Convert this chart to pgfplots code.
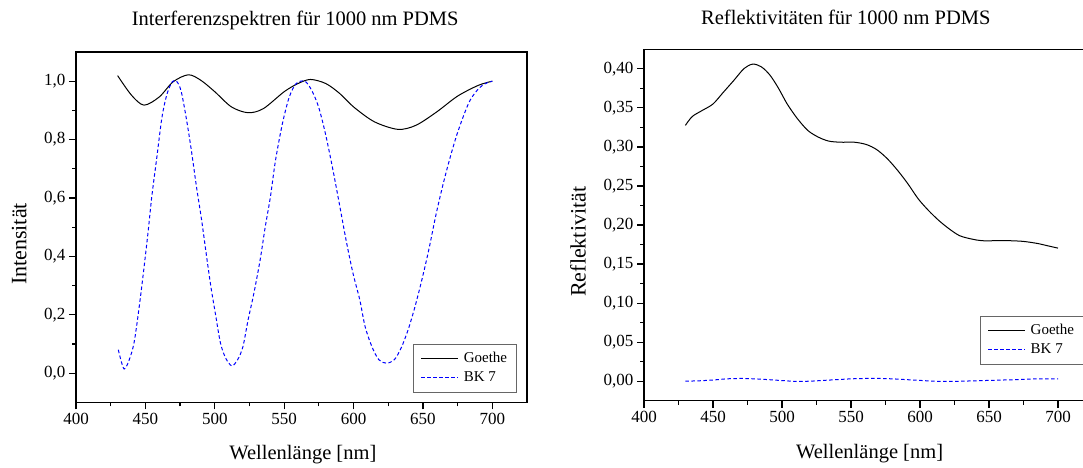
\documentclass[border=0pt]{standalone}
\usepackage{pgfplots}
\pgfplotsset{compat=1.18}
\usepackage{fontspec}
\setmainfont{Liberation Serif}
\begin{document}
\begin{tikzpicture}
\pgfplotsset{
  every axis/.append style={
    scale only axis,
    axis line style={line width=1.2pt},
    tick style={line width=1.2pt, black},
    tick align=outside, tick pos=left,
    major tick length=7pt, minor tick length=4pt,
    minor x tick num=1, minor y tick num=1,
    xmin=400, xmax=725, xtick={400,450,...,700},
    ticklabel style={font=\fontsize{17}{17}\selectfont},
    /pgf/number format/assume math mode=true,
    xlabel style={font=\fontsize{20.5}{20.5}\selectfont},
    ylabel style={font=\fontsize{22}{22}\selectfont},
    title style={font=\fontsize{20.5}{20.5}\selectfont},
    xlabel={Wellenlänge [nm]},
    xlabel style={at={(axis description cs:0.503,-0.150)}, anchor=center},
    legend cell align=left,
    legend image code/.code={\draw[#1] (0pt,0pt) -- (37pt,0pt);},
    legend style={draw=black!60, line width=0.9pt,
      font=\fontsize{15}{15}\selectfont,
      inner xsep=7.5pt, inner ysep=5pt, row sep=0pt,
      nodes={inner sep=2pt, text height=11pt, text depth=4pt},
      /tikz/every odd column/.append style={column sep=3pt}},
  },
  goethe/.style={black, line width=1pt, smooth},
  bk/.style={blue, line width=1pt, dash pattern=on 3.5pt off 2.5pt, smooth},
}
% ---------------- left ----------------
\begin{axis}[
  at={(76pt,-402.3pt)}, anchor=south west,
  width=451pt, height=350.3pt,
  ymin=-0.1, ymax=1.1, ytick={0,0.2,...,1.0},
  yticklabel style={/pgf/number format/.cd, fixed, fixed zerofill, precision=1, use comma},
  title={Interferenzspektren für 1000 nm PDMS},
  title style={at={(axis description cs:0.486,1)}, anchor=base, yshift=20.3pt},
  ylabel={Intensität},
  ylabel style={at={(axis description cs:-0.126,0.452)}, anchor=center},
  legend style={at={(axis description cs:0.978,0.0274)}, anchor=south east},
]
\addplot[goethe] coordinates {
(430,1.019) (440,0.952) (449,0.918) (460,0.946) (470,0.998) (481,1.022)
(490,1.003) (500,0.964) (512,0.912) (524,0.892) (535,0.906) (550,0.964)
(560,0.992) (569,1.006) (580,0.992) (590,0.958) (600,0.912) (615,0.861)
(632,0.835) (645,0.849) (660,0.895) (675,0.949) (690,0.986) (700,1.0)
};
\addlegendentry{Goethe}
\addplot[bk] coordinates {
(430.5,0.08) (434.7,0.014) (439.2,0.057) (442.2,0.114) (445.9,0.24) (449.1,0.365)
(452.1,0.49) (454.6,0.604) (458.3,0.741) (462,0.878) (465.7,0.958) (469.4,0.998)
(472.4,1.0) (475.6,0.969) (479.3,0.878) (483.1,0.764) (486.8,0.639) (490.5,0.525)
(493.8,0.41) (497.2,0.296) (500.4,0.205) (504.1,0.103) (507.9,0.051) (512.3,0.025)
(516.5,0.046) (520.3,0.091) (524,0.182) (528.2,0.274) (532.7,0.388) (536.4,0.502)
(540.1,0.604) (543.8,0.73) (548.8,0.856) (553.7,0.946) (558.7,0.992) (564.9,1.0)
(569.8,0.969) (574.8,0.912) (579.7,0.821) (584.7,0.707) (589.7,0.582) (594.6,0.456)
(599.6,0.342) (604.5,0.251) (608.3,0.16) (613.2,0.091) (618.2,0.046) (623.7,0.034)
(629.4,0.046) (634.3,0.086) (639.3,0.148) (644.3,0.228) (649.2,0.319) (654.2,0.422)
(659.1,0.536) (664.1,0.639) (669.1,0.73) (674,0.81) (679,0.878) (684,0.935)
(690.2,0.975) (695.1,0.992) (700,1.0)
};
\addlegendentry{BK 7}
\end{axis}
% ---------------- right ----------------
\begin{axis}[
  at={(644pt,-400.7pt)}, anchor=south west,
  width=448.5pt, height=351.4pt,
  ymin=-0.025, ymax=0.425, ytick={0,0.05,...,0.401},
  yticklabel style={/pgf/number format/.cd, fixed, fixed zerofill, precision=2, use comma},
  title={Reflektivitäten für 1000 nm PDMS},
  title style={at={(axis description cs:0.450,1)}, anchor=base, yshift=19.3pt},
  ylabel={Reflektivität},
  ylabel style={at={(axis description cs:-0.147,0.4525)}, anchor=center},
  legend style={at={(axis description cs:0.7485,0.242)}, anchor=north west},
]
\addplot[goethe] coordinates {
(430,0.3276) (435,0.339) (442.5,0.347) (450,0.355) (457.5,0.370) (465,0.385)
(472.5,0.4004) (478.75,0.406) (485,0.4026) (491.25,0.392) (497.5,0.375)
(503.75,0.355) (511.25,0.336) (518.75,0.321) (526.25,0.3126) (533.75,0.3075)
(542.5,0.306) (552.5,0.306) (561.25,0.303) (568.75,0.2964) (576.25,0.285)
(583.75,0.27) (591.25,0.2527) (598.75,0.2334) (606.25,0.2184) (613.75,0.2056)
(621.25,0.1949) (628.75,0.1863) (637.5,0.182) (645,0.1799) (655,0.1799)
(665,0.1799) (675,0.179) (685,0.1764) (692.5,0.1734) (700,0.1704)
};
\addlegendentry{Goethe}
\addplot[bk] coordinates {
(430,0.000) (440,0.0005) (450,0.0015) (460,0.003) (470,0.0035) (480,0.003)
(490,0.002) (500,0.0008) (510,-0.0002) (520,0.0) (530,0.001) (540,0.002)
(550,0.003) (560,0.0035) (570,0.0035) (580,0.003) (590,0.002) (600,0.001)
(610,0.0) (620,-0.0003) (630,0.0) (640,0.0005) (650,0.001) (660,0.0015)
(670,0.002) (680,0.0028) (690,0.003) (700,0.003)
};
\addlegendentry{BK 7}
\end{axis}
\pgfresetboundingbox
\path (0pt,0pt) rectangle (1083pt,-467pt);
\end{tikzpicture}
\end{document}
